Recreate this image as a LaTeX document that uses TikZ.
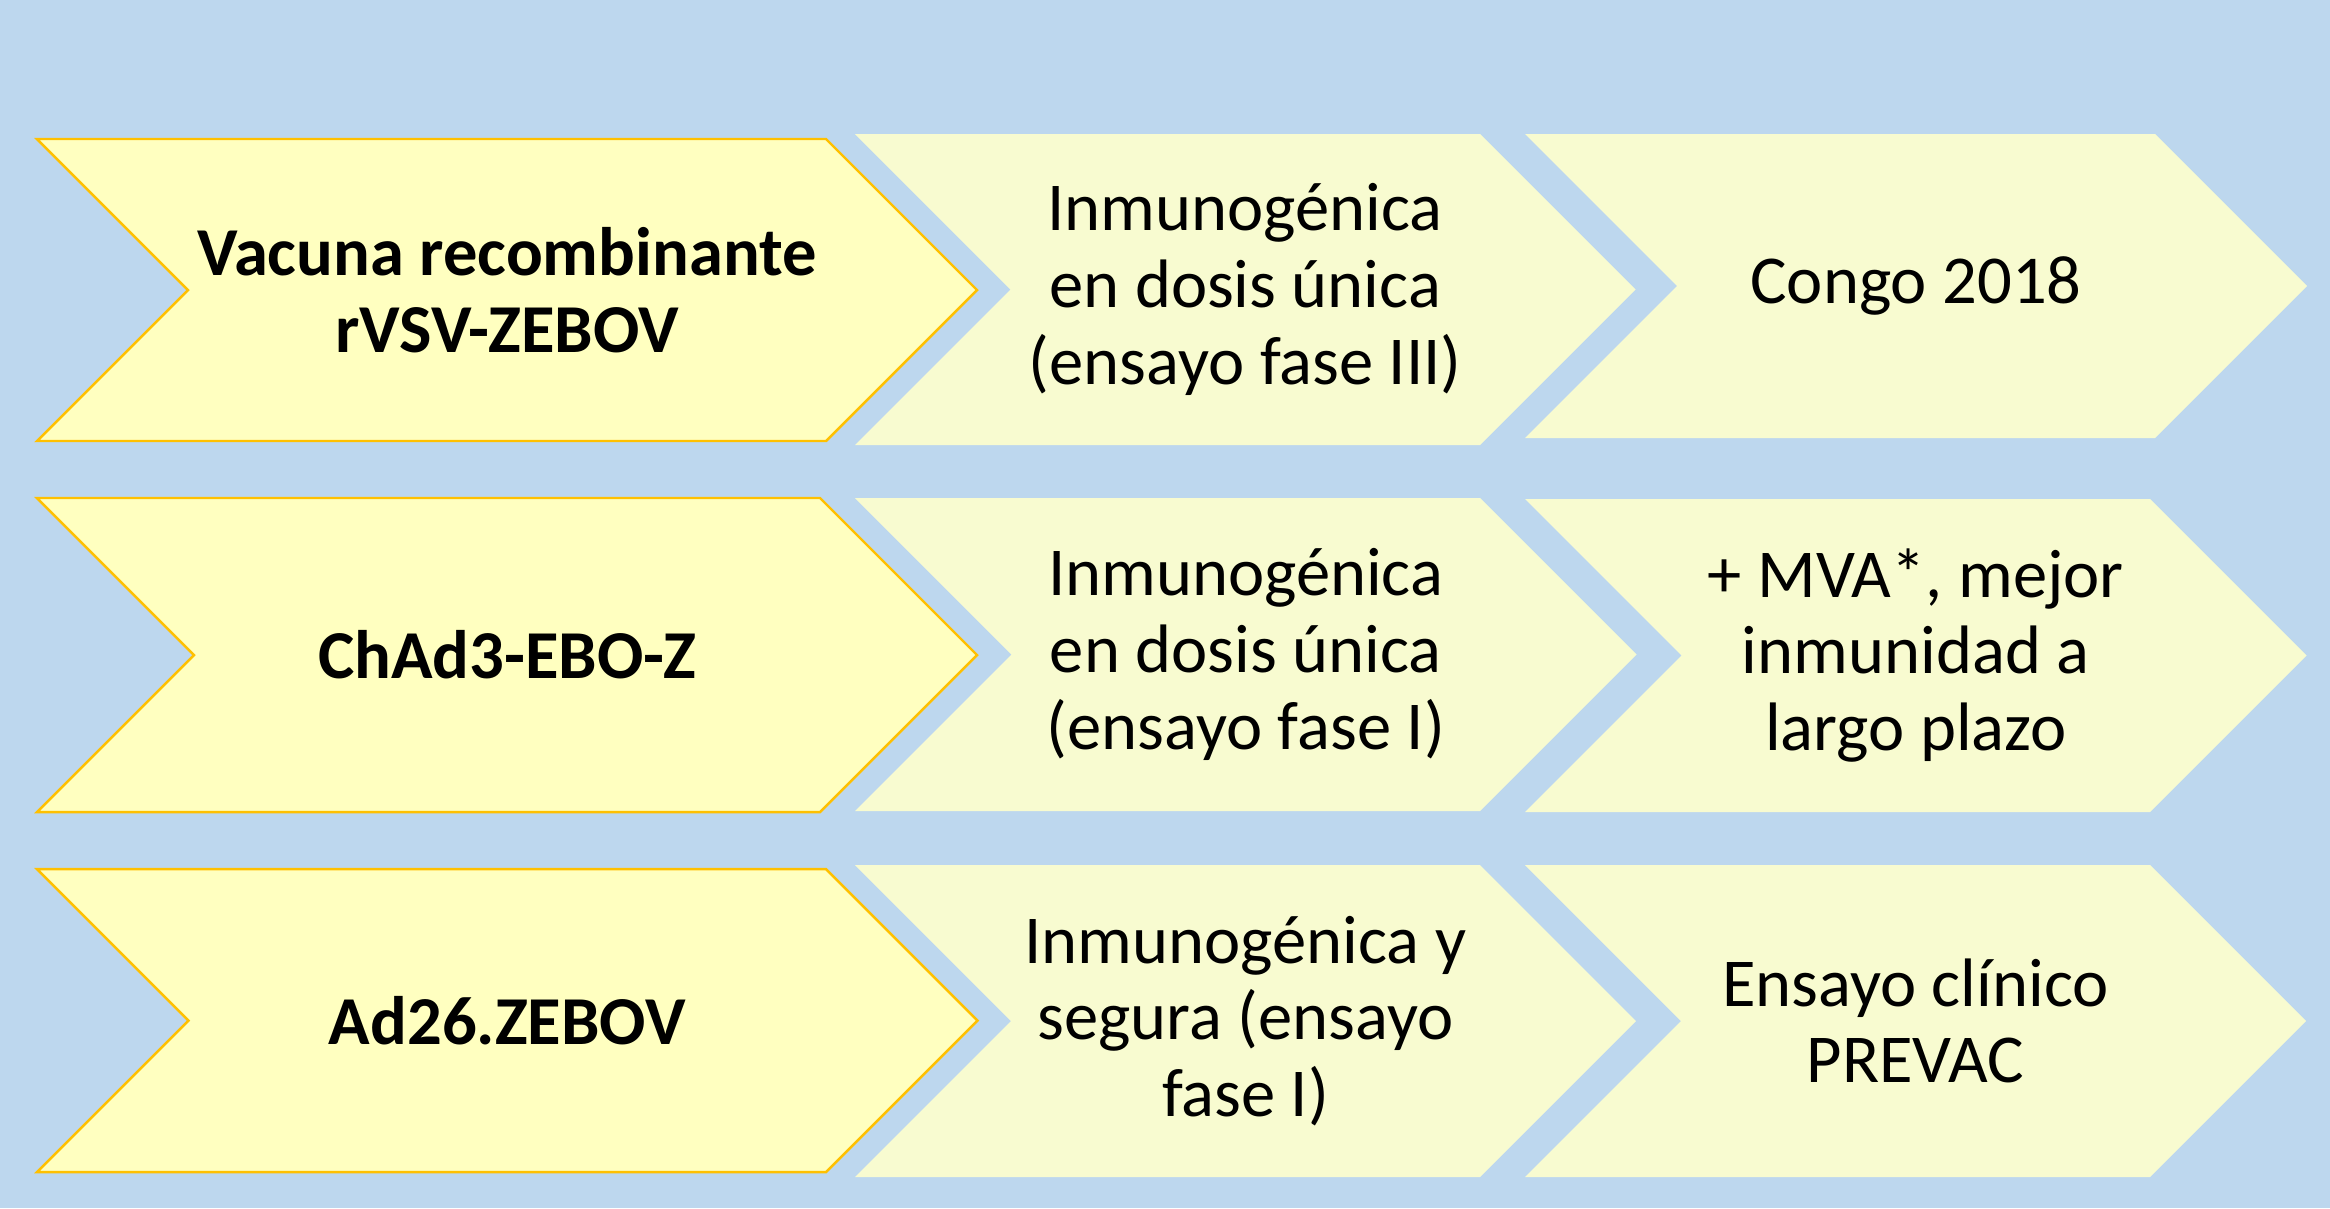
\documentclass[tikz,border=0pt]{standalone}
\usepackage{fontspec}
\setmainfont{Carlito}
\usetikzlibrary{calc}

\definecolor{fondo}{HTML}{BDD7EE}
\definecolor{amarillo}{HTML}{FFFFC0}
\definecolor{dorado}{HTML}{FFC000}
\definecolor{crema}{HTML}{F8FBD0}

% chevron: style, name, left x, right x, top y, bottom y, text
\newcommand{\chevron}[7]{%
  \pgfmathsetmacro\hh{(#6-#5)/2}%
  \pgfmathsetmacro\my{(#5+#6)/2}%
  \path[#1] (#3,#5) -- (#4,#5) -- (#4+\hh,\my) -- (#4,#6) -- (#3,#6)
        -- (#3+\hh,\my) -- cycle;
  \node[texto] (#2) at ({(#3+\hh+#4)/2},\my) {#7};
}

\begin{document}
\begin{tikzpicture}[x=0.01cm,y=-0.01cm,
    vacuna/.style={fill=amarillo,draw=dorado,line width=0.7pt,line join=miter},
    paso/.style={fill=crema},
    texto/.style={align=center,inner sep=0pt,font=\fontsize{19.5}{21.8}\selectfont}]

  \fill[fondo] (0,0) rectangle (2330,1208);
  \useasboundingbox (0,0) rectangle (2330,1208);

  % fila 1
  \chevron{vacuna}{rvsv}{37}{826}{139}{441}{\fontsize{19.5}{22.5}\selectfont\bfseries Vacuna recombinante\\\bfseries rVSV-ZEBOV}
  \chevron{paso}{rvsv-fase}{855}{1480}{134}{445}{Inmunogénica\\en dosis única\\(ensayo fase III)}
  \chevron{paso}{rvsv-uso}{1525}{2155}{134}{438}{Congo 2018}

  % fila 2
  \chevron{vacuna}{chad}{37}{820}{498}{812}{\textbf{ChAd3-EBO-Z}}
  \chevron{paso}{chad-fase}{855}{1480}{498}{811}{Inmunogénica\\en dosis única\\(ensayo fase I)}
  \chevron{paso}{chad-uso}{1525}{2150}{499}{812}{+ MVA*, mejor\\inmunidad a\\largo plazo}

  % fila 3
  \chevron{vacuna}{ad26}{37}{826}{869}{1172}{\textbf{Ad26.ZEBOV}}
  \chevron{paso}{ad26-fase}{855}{1480}{865}{1177}{Inmunogénica y\\segura (ensayo\\fase I)}
  \chevron{paso}{ad26-uso}{1525}{2150}{865}{1177}{Ensayo clínico\\PREVAC}

\end{tikzpicture}
\end{document}
